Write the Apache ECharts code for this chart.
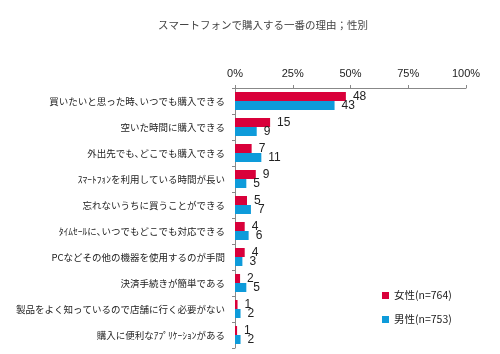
<!DOCTYPE html>
<html><head><meta charset="utf-8">
<script src="https://cdn.jsdelivr.net/npm/echarts@6/dist/echarts.min.js"></script>
<style>html,body{margin:0;padding:0;background:#fff}#c{width:500px;height:354px}</style>
</head><body><div id="c"></div>
<script>
const title = 'スマートフォンで購入する一番の理由；性別';
const categories = [
  '買いたいと思った時､いつでも購入できる',
  '空いた時間に購入できる',
  '外出先でも､どこでも購入できる',
  'ｽﾏｰﾄﾌｫﾝを利用している時間が長い',
  '忘れないうちに買うことができる',
  'ﾀｲﾑｾｰﾙに､いつでもどこでも対応できる',
  'PCなどその他の機器を使用するのが手間',
  '決済手続きが簡単である',
  '製品をよく知っているので店舗に行く必要がない',
  '購入に便利なｱﾌﾟﾘｹｰｼｮﾝがある'
];
const femaleName = '女性(n=764)';
const maleName = '男性(n=753)';
const femaleValues = [48.0, 15.2, 7.2, 9.0, 5.2, 4.2, 4.2, 2.2, 1.1, 0.9];
const maleValues = [43.1, 9.4, 11.4, 4.9, 6.9, 5.9, 3.2, 4.9, 2.4, 2.4];
const axisTicks = [0, 25, 50, 75, 100];

const chart = echarts.init(document.getElementById('c'));
const lab = {
  show: true, position: 'right', distance: 7,
  fontFamily: 'Liberation Sans, Arial', fontSize: 12, color: '#222',
  formatter: p => Math.round(p.value)
};
chart.setOption({
  animation: false,
  title: {
    text: title, left: 258, textAlign: 'center', top: 15,
    textStyle: { fontFamily: 'Noto Sans CJK JP', fontSize: 10.5, fontWeight: 'normal', color: '#444' }
  },
  legend: {
    orient: 'vertical', left: 377, top: 284, itemGap: 11,
    itemWidth: 7, itemHeight: 7, icon: 'rect',
    textStyle: { fontFamily: 'Noto Sans CJK JP', fontSize: 10.5, color: '#222', lineHeight: 13 },
    data: [femaleName, maleName]
  },
  grid: { left: 235, right: 34, top: 88, bottom: 6, containLabel: false },
  xAxis: {
    type: 'value', position: 'top',
    min: axisTicks[0], max: axisTicks[axisTicks.length - 1], interval: 25,
    axisLine: { show: true, lineStyle: { color: '#888' } },
    axisTick: { show: true, length: 3, lineStyle: { color: '#888' } },
    splitLine: { show: false },
    axisLabel: { formatter: '{value}%', fontFamily: 'Liberation Sans, Arial', fontSize: 11, color: '#222', margin: 9 }
  },
  yAxis: {
    type: 'category', inverse: true, data: categories,
    axisLine: { show: true, lineStyle: { color: '#888' } },
    axisTick: { show: true, length: 3, lineStyle: { color: '#888' } },
    axisLabel: { fontFamily: 'Noto Sans CJK JP', fontSize: 9.5, color: '#222', margin: 10 }
  },
  series: [
    { name: femaleName, type: 'bar', data: femaleValues, barWidth: 9, barGap: '0%',
      itemStyle: { color: '#D9003A' }, label: lab },
    { name: maleName, type: 'bar', data: maleValues, barWidth: 9, barGap: '0%',
      itemStyle: { color: '#0E9BDA' }, label: lab }
  ]
});
</script></body></html>
